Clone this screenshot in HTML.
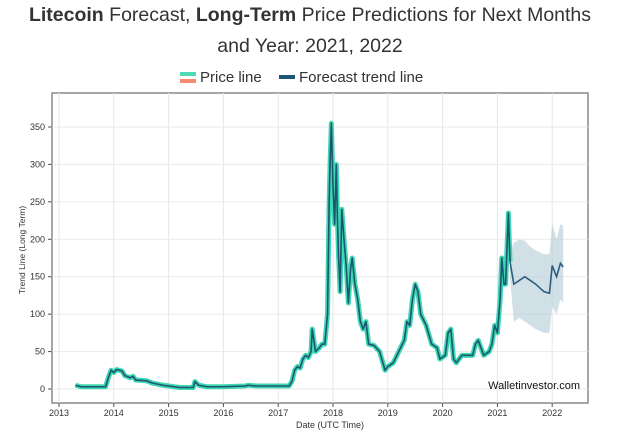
<!DOCTYPE html>
<html><head><meta charset="utf-8"><style>
body{margin:0;background:#fff;width:620px;height:433px;overflow:hidden;font-family:"Liberation Sans",sans-serif;}
#title{position:absolute;left:0;top:0;width:620px;text-align:center;font-size:19.5px;line-height:31px;color:#333;}
svg{position:absolute;left:0;top:0;}
</style></head><body>
<div id="title"><b>Litecoin</b> Forecast, <b>Long-Term</b> Price Predictions for Next Months<br>and Year: 2021, 2022</div>
<svg id="chart" width="620" height="433"></svg>
<script>
const priceT=[2013.3,2013.4,2013.6,2013.85,2013.9,2013.95,2014.0,2014.05,2014.15,2014.2,2014.3,2014.35,2014.4,2014.6,2014.7,2014.9,2015.0,2015.2,2015.45,2015.48,2015.55,2015.7,2016.0,2016.4,2016.45,2016.6,2017.0,2017.2,2017.25,2017.3,2017.35,2017.4,2017.45,2017.5,2017.55,2017.6,2017.62,2017.68,2017.75,2017.8,2017.85,2017.9,2017.93,2017.95,2017.97,2018.0,2018.03,2018.06,2018.08,2018.1,2018.13,2018.16,2018.2,2018.24,2018.28,2018.32,2018.35,2018.4,2018.45,2018.5,2018.55,2018.6,2018.65,2018.75,2018.85,2018.95,2019.0,2019.1,2019.2,2019.3,2019.35,2019.4,2019.45,2019.5,2019.55,2019.6,2019.7,2019.8,2019.9,2019.95,2020.05,2020.1,2020.15,2020.2,2020.25,2020.35,2020.5,2020.55,2020.6,2020.65,2020.75,2020.85,2020.9,2020.95,2021.0,2021.05,2021.08,2021.12,2021.15,2021.2,2021.23];
const priceV=[5,3,3,3,15,25,22,26,24,18,15,17,12,11,8,5,4,2,2,10,5,3,3,4,5,4,4,4,10,25,30,28,40,45,42,50,80,50,55,60,60,100,250,310,355,270,220,300,230,180,130,240,200,165,115,160,175,140,120,90,80,90,60,58,50,25,30,35,50,65,90,85,120,140,130,100,85,60,55,40,45,75,80,40,35,45,45,45,60,65,45,50,60,85,75,120,175,140,140,235,170];
const fcT=[2021.23,2021.3,2021.4,2021.5,2021.6,2021.7,2021.85,2021.95,2022.0,2022.08,2022.15,2022.2];
const fcMid=[170,140,145,150,145,140,130,128,165,150,168,163];
const fcUp=[185,195,200,198,190,185,180,180,220,200,220,218];
const fcLo=[150,90,95,90,85,80,75,75,110,100,120,115];
const xTicks=[2013,2014,2015,2016,2017,2018,2019,2020,2021,2022];
const yTicks=[0,50,100,150,200,250,300,350];
const NS='http://www.w3.org/2000/svg';
const svg=document.getElementById('chart');
const X=t=>59+(t-2013)*54.8;
const Y=v=>389-v*0.7486;
function el(tag,a,parent){const e=document.createElementNS(NS,tag);for(const k in a)e.setAttribute(k,a[k]);(parent||svg).appendChild(e);return e;}
const PL=52,PR=588,PT=93,PB=403;
let r=el('rect',{x:PL,y:PT,width:PR-PL,height:PB-PT,fill:'#fff',stroke:'#888','stroke-width':1.5});


xTicks.forEach(t=>{
 let g=el('line',{x1:X(t),x2:X(t),y1:PT,y2:PB,stroke:'#e6e6e6'});
 
 
 el('line',{x1:X(t),x2:X(t),y1:PB,y2:PB+4,stroke:'#555'});
 let tx=el('text',{x:X(t),y:PB+13,'font-size':9,'text-anchor':'middle',fill:'#333'});tx.textContent=t;
 
 
});
yTicks.forEach(v=>{
 let g=el('line',{x1:PL,x2:PR,y1:Y(v),y2:Y(v),stroke:'#eaeaea'});
 
 
 el('line',{x1:PL-4,x2:PL,y1:Y(v),y2:Y(v),stroke:'#555'});
 let tx=el('text',{x:PL-7,y:Y(v)+3,'font-size':9,'text-anchor':'end',fill:'#333'});tx.textContent=v;
 
 
});
// band
let bd='M'+fcT.map((t,i)=>X(t)+','+Y(fcUp[i])).join('L')+'L'+fcT.slice().reverse().map((t,i)=>X(t)+','+Y(fcLo[fcLo.length-1-i])).join('L')+'Z';
let band=el('path',{d:bd,fill:'#b3c9d6','fill-opacity':0.6});


const pd='M'+priceT.map((t,i)=>X(t)+','+Y(priceV[i])).join('L');
let p1=el('path',{d:pd,fill:'none',stroke:'#3ed8b0','stroke-width':5,'stroke-linejoin':'round'});


let p2=el('path',{d:pd,fill:'none',stroke:'#1d5574','stroke-width':1.6,'stroke-linejoin':'round'});


let f=el('path',{d:'M'+fcT.map((t,i)=>X(t)+','+Y(fcMid[i])).join('L'),fill:'none',stroke:'#2a5f80','stroke-width':1.6});


let wm=el('text',{x:580,y:389,'font-size':11,'text-anchor':'end',fill:'#111'});wm.textContent='Walletinvestor.com';


let xt=el('text',{x:(PL+PR)/2+10,y:428,'font-size':9,'text-anchor':'middle',fill:'#333'});xt.textContent='Date (UTC Time)';


let yt=el('text',{x:0,y:0,'font-size':8.5,'text-anchor':'middle',fill:'#333',transform:'translate(25,250) rotate(-90)'});yt.textContent='Trend Line (Long Term)';


// legend
let lg=el('g',{});


el('rect',{x:180,y:72,width:16,height:4,fill:'#4fdcb3'},lg);
el('rect',{x:180,y:79,width:16,height:4,fill:'#f58a72'},lg);
let l1=el('text',{x:200,y:82,'font-size':15,fill:'#333'},lg);l1.textContent='Price line';


el('rect',{x:279,y:75,width:16,height:4,fill:'#1d5574'},lg);
let l2=el('text',{x:299,y:82,'font-size':15,fill:'#333'},lg);l2.textContent='Forecast trend line';


</script>
</body></html>
